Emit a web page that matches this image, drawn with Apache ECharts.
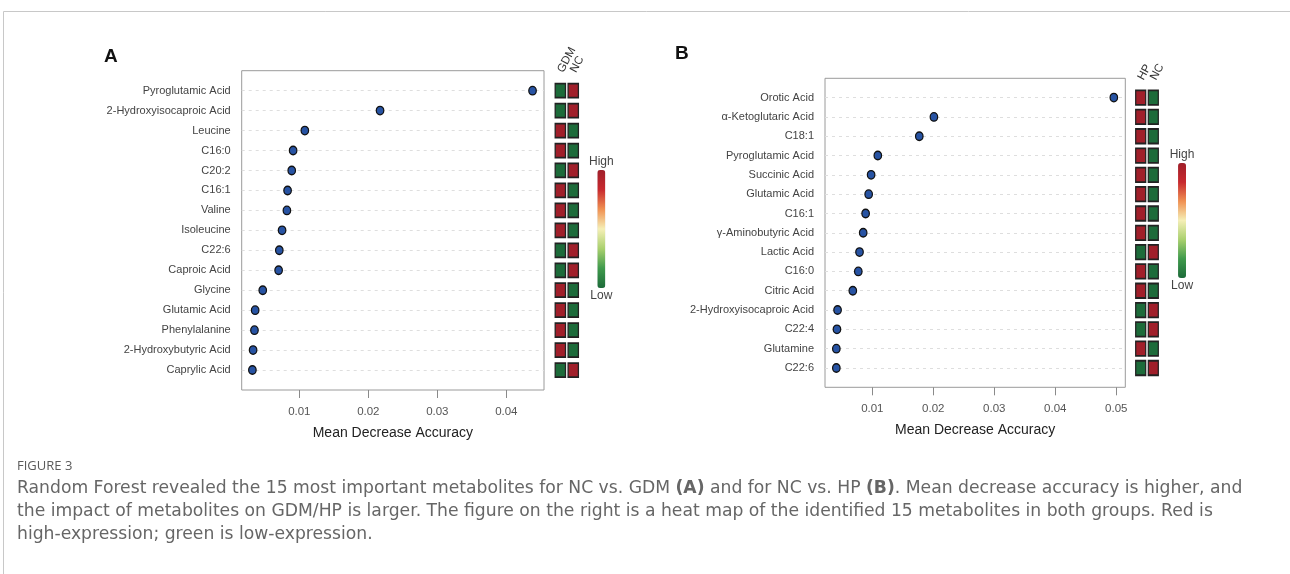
<!DOCTYPE html>
<html><head><meta charset="utf-8">
<script src="https://cdn.jsdelivr.net/npm/echarts@6/dist/echarts.min.js"></script>
<style>html,body{margin:0;padding:0;background:#fff}#c{width:1290px;height:574px}</style>
</head><body><div id="c"></div>
<script>
// ---- Panel A data (NC vs. GDM) ----
const namesA = ['Pyroglutamic Acid','2-Hydroxyisocaproic Acid','Leucine','C16:0','C20:2','C16:1','Valine','Isoleucine','C22:6','Caproic Acid','Glycine','Glutamic Acid','Phenylalanine','2-Hydroxybutyric Acid','Caprylic Acid'];
const valuesA = [0.0438,0.0217,0.0108,0.0091,0.0089,0.0083,0.0082,0.0075,0.0071,0.0070,0.0047,0.0036,0.0035,0.0033,0.0032];
const groupsA = ['GDM','NC'];
const heatA_GDM = [0,0,1,1,0,1,1,1,0,0,1,1,1,1,0];
const heatA_NC  = [1,1,0,0,1,0,0,0,1,1,0,0,0,0,1];
// ---- Panel B data (NC vs. HP) ----
const namesB = ['Orotic Acid','\u03b1-Ketoglutaric Acid','C18:1','Pyroglutamic Acid','Succinic Acid','Glutamic Acid','C16:1','\u03b3-Aminobutyric Acid','Lactic Acid','C16:0','Citric Acid','2-Hydroxyisocaproic Acid','C22:4','Glutamine','C22:6'];
const valuesB = [0.0496,0.0201,0.0177,0.0109,0.0098,0.0094,0.0089,0.0085,0.0079,0.0077,0.0068,0.0043,0.0042,0.0041,0.0041];
const groupsB = ['HP','NC'];
const heatB_HP = [1,1,1,1,1,1,1,1,0,1,1,0,0,1,0];
const heatB_NC = [0,0,0,0,0,0,0,0,1,0,0,1,1,0,1];
// tick labels
const ticksA = [0.01,0.02,0.03,0.04];
const ticksB = [0.01,0.02,0.03,0.04,0.05];
const xTitle = 'Mean Decrease Accuracy';

const NARROW = '"Liberation Sans Narrow","Arial Narrow","Liberation Sans",Arial,sans-serif';
const SANS = '"Liberation Sans",Arial,sans-serif';
const CAP = '"DejaVu Sans","Open Sans",sans-serif';
const heatColors = ['#1d6b3a','#3f9a4c','#a9d06e','#f5efb6','#f09152','#c8292e','#a01f2a'];

function cats(names){ return [''].concat(names, ['']); }
function scatterData(vals){ return vals.map((v,i)=>[v, i+1]); }
function heatData(groups,a,b){ const d=[]; a.forEach((v,i)=>d.push([groups[0],i+1,v])); b.forEach((v,i)=>d.push([groups[1],i+1,v])); return d; }

const grids = [
  {left:241.7, top:70.7, width:302.3, height:319.3, show:true, borderColor:'#9a9a9a', borderWidth:1},
  {left:553.9, top:70.7, width:25.8, height:319.3},
  {left:825, top:78.3, width:300.3, height:309, show:true, borderColor:'#9a9a9a', borderWidth:1},
  {left:1134.4, top:78.3, width:25.2, height:309}
];

function valueX(gi, min, max, ticks, gap){
  return {type:'value', gridIndex:gi, min:min, max:max, position:'bottom',
    axisLine:{show:false}, splitLine:{show:false},
    axisTick:{show:true, customValues:ticks, length:8, lineStyle:{color:'#8a8a8a'}},
    axisLabel:{customValues:ticks, formatter:v=>v.toFixed(2), margin:16, color:'#555', fontFamily:NARROW, fontSize:11.5},
    name:xTitle, nameLocation:'middle', nameGap:gap, nameTextStyle:{color:'#222', fontFamily:SANS, fontSize:14}};
}
function catY(gi, names, show){
  return {type:'category', gridIndex:gi, data:cats(names), inverse:true, boundaryGap:false,
    axisLine:{show:false}, axisTick:{show:false},
    axisLabel:{show:show, margin:11, color:'#444', fontFamily:NARROW, fontSize:11, interval:0},
    splitLine:{show:show, interval:(i)=> i>0 && i<names.length+1, lineStyle:{color:'#dedede', type:[3,4], width:1}}};
}
function heatX(gi, groups){
  return {type:'category', gridIndex:gi, data:groups, position:'top', boundaryGap:true,
    axisLine:{show:false}, axisTick:{show:false}, splitLine:{show:false},
    axisLabel:{interval:0, rotate:-62, margin:-1, color:'#333', fontFamily:NARROW, fontSize:11.5}};
}

const option = {
  animation:false,
  backgroundColor:'#fff',
  title:[
    {text:'A', left:104, top:47, padding:0, textStyle:{fontFamily:SANS, fontWeight:'bold', fontSize:19, color:'#111'}},
    {text:'B', left:675, top:44, padding:0, textStyle:{fontFamily:SANS, fontWeight:'bold', fontSize:19, color:'#111'}},
    {text:'FIGURE 3', left:17, top:460, padding:0, textStyle:{fontFamily:'"Open Sans",sans-serif', fontSize:13, color:'#5a5a5a', fontWeight:'normal'}},
    {left:17, top:477, padding:0,
     text:'{t|Random Forest revealed the 15 most important metabolites for NC vs. GDM }{b|(A)}{t| and for NC vs. HP }{b|(B)}{t|. Mean decrease accuracy is higher, and}\n{t|the impact of metabolites on GDM/HP is larger. The figure on the right is a heat map of the identified 15 metabolites in both groups. Red is}\n{t|high-expression; green is low-expression.}',
     textStyle:{fontWeight:'normal', rich:{
       t:{fontFamily:CAP, fontSize:17.2, color:'#666', fontWeight:'normal', lineHeight:23},
       b:{fontFamily:CAP, fontSize:17.2, color:'#666', fontWeight:'bold', lineHeight:23}
     }}}
  ],
  graphic:[
    {type:'polyline', shape:{points:[[3.5,574],[3.5,11.5],[1290,11.5]]}, style:{stroke:'#c8c8c8', lineWidth:1, fill:null}, silent:true}
  ],
  grid:grids,
  xAxis:[
    valueX(0, 0.00165, 0.04546, ticksA, 36),
    heatX(1, groupsA),
    valueX(2, 0.00224, 0.05148, ticksB, 36),
    heatX(3, groupsB)
  ],
  yAxis:[
    catY(0, namesA, true),
    catY(1, namesA, false),
    catY(2, namesB, true),
    catY(3, namesB, false)
  ],
  visualMap:[
    {type:'continuous', seriesIndex:1, dimension:2, min:0, max:1, calculable:false, orient:'vertical',
     left:574, top:141, itemWidth:8, itemHeight:118, text:['High','Low'], textGap:2,
     textStyle:{color:'#444', fontFamily:NARROW, fontSize:12}, inRange:{color:heatColors}},
    {type:'continuous', seriesIndex:3, dimension:2, min:0, max:1, calculable:false, orient:'vertical',
     left:1154.7, top:134, itemWidth:8, itemHeight:115, text:['High','Low'], textGap:2,
     textStyle:{color:'#444', fontFamily:NARROW, fontSize:12}, inRange:{color:heatColors}}
  ],
  series:[
    {type:'scatter', xAxisIndex:0, yAxisIndex:0, data:scatterData(valuesA), symbol:'circle', symbolSize:[7.5,8.5],
     itemStyle:{color:'#2753a3', borderColor:'#111', borderWidth:1.3, opacity:1}},
    {type:'scatter', xAxisIndex:1, yAxisIndex:1, data:heatData(groupsA, heatA_GDM, heatA_NC), symbol:'rect', symbolSize:[10.3,14],
     itemStyle:{borderColor:'#222', borderWidth:1.5, opacity:1}},
    {type:'scatter', xAxisIndex:2, yAxisIndex:2, data:scatterData(valuesB), symbol:'circle', symbolSize:[7.5,8.5],
     itemStyle:{color:'#2753a3', borderColor:'#111', borderWidth:1.3, opacity:1}},
    {type:'scatter', xAxisIndex:3, yAxisIndex:3, data:heatData(groupsB, heatB_HP, heatB_NC), symbol:'rect', symbolSize:[10,14.5],
     itemStyle:{borderColor:'#222', borderWidth:1.5, opacity:1}}
  ]
};
const chart = echarts.init(document.getElementById('c'), null, {renderer:'canvas'});
chart.setOption(option);
</script>
</body></html>
